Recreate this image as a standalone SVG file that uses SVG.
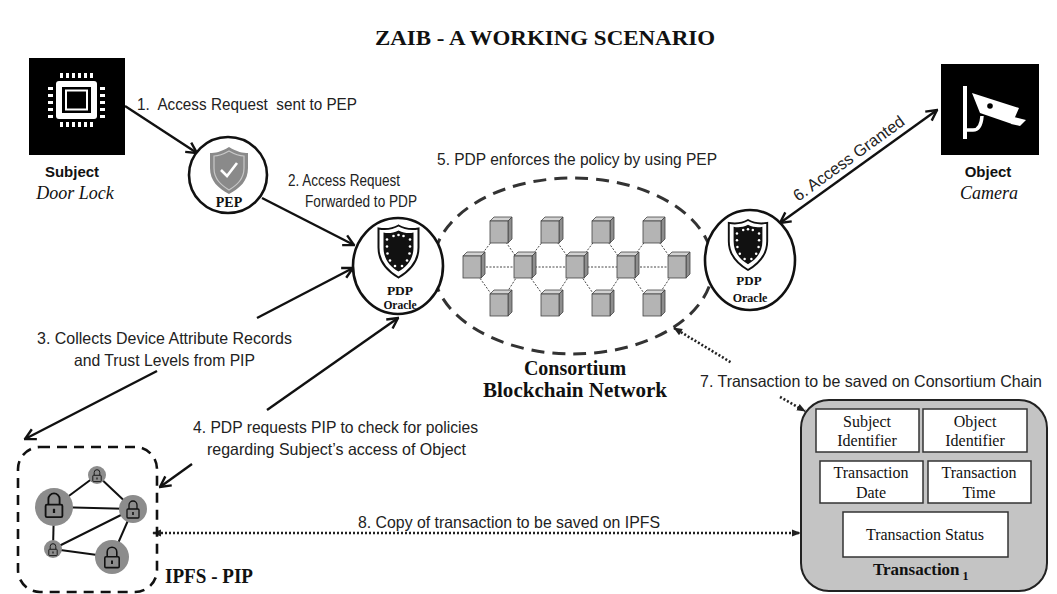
<svg xmlns="http://www.w3.org/2000/svg" width="1057" height="594" viewBox="0 0 1057 594">
  <style>
    .lbl { font-family: "Liberation Sans", Arial, sans-serif; font-size: 16.5px; fill: #222; }
    .ser { font-family: "Liberation Serif", "Times New Roman", serif; fill: #111; }
    .serb { font-family: "Liberation Serif", "Times New Roman", serif; font-weight: bold; fill: #111; }
    .sansb { font-family: "Liberation Sans", Arial, sans-serif; font-weight: bold; fill: #111; }
    .arrow { stroke: #111; stroke-width: 2.4; fill: none; marker-end: url(#openHead); }
    .arrow2 { stroke: #111; stroke-width: 2.4; fill: none; marker-start: url(#openHead); marker-end: url(#openHead); }
    .arrowS { stroke: #111; stroke-width: 2.4; fill: none; marker-start: url(#openHead); }
    .dot { stroke: #222; stroke-width: 2.6; stroke-dasharray: 2 2; fill: none; }
    .node-circle { fill: #fff; stroke: #111; stroke-width: 2.6; }
    .field { fill: #fff; stroke: #333; stroke-width: 1.5; }
    .link { stroke: #333; stroke-width: 0.9; stroke-dasharray: 2 1.5; }
    .ipfs-edge { stroke: #111; stroke-width: 2; }
    .ipfs-node { fill: #8c8c8c; }
  </style>
  <defs>
    <marker id="openHead" viewBox="0 0 14 14" refX="12.5" refY="7" markerWidth="14" markerHeight="14" markerUnits="userSpaceOnUse" orient="auto-start-reverse">
      <path d="M2,1.5 L12.5,7 L2,12.5" fill="none" stroke="#111" stroke-width="2.4"/>
    </marker>
    <marker id="dotHead" viewBox="0 0 10 10" refX="9" refY="5" markerWidth="9" markerHeight="9" markerUnits="userSpaceOnUse" orient="auto-start-reverse">
      <path d="M0,1 L10,5 L0,9 Z" fill="#222"/>
    </marker>
    <!-- 3D block used for the blockchain -->
    <g id="cube">
      <path d="M0,4 L4,0 L22,0 L18,4 Z" fill="#d2d2d2" stroke="#444" stroke-width="0.8"/>
      <path d="M18,4 L22,0 L22,22 L18,26 Z" fill="#8e8e8e" stroke="#444" stroke-width="0.8"/>
      <rect x="0" y="4" width="18" height="22" fill="#b4b4b4" stroke="#444" stroke-width="0.8"/>
    </g>
    <!-- black oracle shield with studs -->
    <g id="shieldDots">
      <path d="M0,-26 C7,-22 14,-22 20,-23 L20,-4 C20,10 12,19 0,26 C-12,19 -20,10 -20,-4 L-20,-23 C-14,-22 -7,-22 0,-26 Z" fill="#fff" stroke="#111" stroke-width="2"/>
      <path d="M0,-21 C6,-18 11,-18 15,-19 L15,-4 C15,7 9,15 0,20 C-9,15 -15,7 -15,-4 L-15,-19 C-11,-18 -6,-18 0,-21 Z" fill="#111"/>
      <g fill="#fff">
        <circle cx="-5" cy="-15.5" r="1.3"/><circle cx="0" cy="-16.5" r="1.3"/><circle cx="5" cy="-15.5" r="1.3"/>
        <circle cx="-11.5" cy="-12" r="1.3"/><circle cx="-11.5" cy="-5" r="1.3"/><circle cx="-11" cy="2" r="1.3"/><circle cx="-8.5" cy="9" r="1.3"/>
        <circle cx="11.5" cy="-12" r="1.3"/><circle cx="11.5" cy="-5" r="1.3"/><circle cx="11" cy="2" r="1.3"/><circle cx="8.5" cy="9" r="1.3"/>
        <circle cx="-3.5" cy="14.5" r="1.3"/><circle cx="3.5" cy="14.5" r="1.3"/>
      </g>
    </g>
    <!-- padlock glyph -->
    <g id="lock" fill="none" stroke="#111" stroke-width="1.3">
      <path d="M-4,-1 V-5 A4,4 0 0 1 4,-5 V-1"/>
      <rect x="-6" y="-1" width="12" height="9" rx="1" fill="#8c8c8c"/>
      <path d="M0,2 V5" stroke-width="1.6"/>
    </g>
  </defs>

  <!-- heading -->
  <text x="545" y="45" text-anchor="middle" class="serb" font-size="21" textLength="340" lengthAdjust="spacingAndGlyphs">ZAIB - A WORKING SCENARIO</text>

  <!-- consortium network (drawn first so the oracle circles sit over it) -->
  <g id="consortium">
    <ellipse cx="573" cy="266" rx="140" ry="88" fill="none" stroke="#333" stroke-width="3" stroke-dasharray="13 8"/>
    <g id="chain-links">
      <line class="link" x1="472" y1="267" x2="677" y2="267" stroke-width="1.4"/>
      <line class="link" x1="472" y1="267" x2="499" y2="232"/>
      <line class="link" x1="523" y1="267" x2="499" y2="232"/>
      <line class="link" x1="523" y1="267" x2="550" y2="232"/>
      <line class="link" x1="575" y1="267" x2="550" y2="232"/>
      <line class="link" x1="575" y1="267" x2="601" y2="232"/>
      <line class="link" x1="626" y1="267" x2="601" y2="232"/>
      <line class="link" x1="626" y1="267" x2="652" y2="232"/>
      <line class="link" x1="677" y1="267" x2="652" y2="232"/>
      <line class="link" x1="472" y1="267" x2="499" y2="305"/>
      <line class="link" x1="523" y1="267" x2="499" y2="305"/>
      <line class="link" x1="523" y1="267" x2="550" y2="305"/>
      <line class="link" x1="575" y1="267" x2="550" y2="305"/>
      <line class="link" x1="575" y1="267" x2="601" y2="305"/>
      <line class="link" x1="626" y1="267" x2="601" y2="305"/>
      <line class="link" x1="626" y1="267" x2="652" y2="305"/>
      <line class="link" x1="677" y1="267" x2="652" y2="305"/>
    </g>
    <g id="blocks">
      <use href="#cube" x="490" y="217"/>
      <use href="#cube" x="541" y="217"/>
      <use href="#cube" x="592" y="217"/>
      <use href="#cube" x="643" y="217"/>
      <use href="#cube" x="463" y="252"/>
      <use href="#cube" x="514" y="252"/>
      <use href="#cube" x="566" y="252"/>
      <use href="#cube" x="617" y="252"/>
      <use href="#cube" x="668" y="252"/>
      <use href="#cube" x="490" y="290"/>
      <use href="#cube" x="541" y="290"/>
      <use href="#cube" x="592" y="290"/>
      <use href="#cube" x="643" y="290"/>
    </g>
    <text x="575" y="375" text-anchor="middle" class="serb" font-size="20">Consortium</text>
    <text x="575" y="397" text-anchor="middle" class="serb" font-size="20" textLength="184" lengthAdjust="spacingAndGlyphs">Blockchain Network</text>
  </g>

  <!-- connectors -->
  <g id="connectors">
    <line class="arrow" x1="125" y1="106" x2="197" y2="153"/>
    <line class="arrow" x1="262" y1="198" x2="354" y2="245"/>
    <line class="arrowS" x1="25" y1="439" x2="157" y2="371"/>
    <line class="arrow" x1="257" y1="318" x2="353" y2="268"/>
    <line class="arrowS" x1="160" y1="487" x2="192" y2="464"/>
    <line class="arrow" x1="267" y1="410" x2="398" y2="318"/>
    <line class="arrow2" x1="780" y1="223" x2="937" y2="110"/>
    <line class="dot" x1="674" y1="328" x2="732" y2="363" marker-start="url(#dotHead)"/>
    <line class="dot" x1="780" y1="397" x2="805" y2="411" marker-end="url(#dotHead)"/>
    <line class="dot" x1="153" y1="533" x2="800" y2="533" marker-start="url(#dotHead)" marker-end="url(#dotHead)"/>

    <text class="lbl" x="137" y="110" textLength="220" lengthAdjust="spacingAndGlyphs">1.&#160; Access Request&#160; sent to PEP</text>
    <text class="lbl" x="288" y="186" textLength="112" lengthAdjust="spacingAndGlyphs">2. Access Request</text>
    <text class="lbl" x="305" y="207" textLength="112" lengthAdjust="spacingAndGlyphs">Forwarded to PDP</text>
    <text class="lbl" x="37" y="344" textLength="255" lengthAdjust="spacingAndGlyphs">3. Collects Device Attribute Records</text>
    <text class="lbl" x="74" y="366" textLength="181" lengthAdjust="spacingAndGlyphs">and Trust Levels from PIP</text>
    <text class="lbl" x="193" y="433" textLength="285" lengthAdjust="spacingAndGlyphs">4. PDP requests PIP to check for policies</text>
    <text class="lbl" x="207" y="455" textLength="259" lengthAdjust="spacingAndGlyphs">regarding Subject’s access of Object</text>
    <text class="lbl" x="437" y="165" textLength="280" lengthAdjust="spacingAndGlyphs">5. PDP enforces the policy by using PEP</text>
    <text class="lbl" transform="translate(852,163) rotate(-36)" text-anchor="middle" textLength="133" lengthAdjust="spacingAndGlyphs">6. Access Granted</text>
    <text class="lbl" x="700" y="387" textLength="342" lengthAdjust="spacingAndGlyphs">7. Transaction to be saved on Consortium Chain</text>
    <text class="lbl" x="358" y="528" textLength="302" lengthAdjust="spacingAndGlyphs">8. Copy of transaction to be saved on IPFS</text>
  </g>

  <!-- subject: door lock controller chip -->
  <g id="subject">
    <rect x="29" y="58" width="96" height="97" fill="#000"/>
    <g fill="#fff">
      <rect x="60" y="73" width="3" height="5"/><rect x="66" y="73" width="3" height="5"/><rect x="72" y="73" width="3" height="5"/>
      <rect x="78" y="73" width="3" height="5"/><rect x="84" y="73" width="3" height="5"/><rect x="90" y="73" width="3" height="5"/>
      <rect x="60" y="122" width="3" height="5"/><rect x="66" y="122" width="3" height="5"/><rect x="72" y="122" width="3" height="5"/>
      <rect x="78" y="122" width="3" height="5"/><rect x="84" y="122" width="3" height="5"/><rect x="90" y="122" width="3" height="5"/>
      <rect x="48" y="87" width="5" height="3"/><rect x="48" y="94" width="5" height="3"/><rect x="48" y="101" width="5" height="3"/>
      <rect x="48" y="108" width="5" height="3"/><rect x="48" y="115" width="5" height="3"/>
      <rect x="100" y="87" width="5" height="3"/><rect x="100" y="94" width="5" height="3"/><rect x="100" y="101" width="5" height="3"/>
      <rect x="100" y="108" width="5" height="3"/><rect x="100" y="115" width="5" height="3"/>
      <rect x="56" y="81" width="41" height="38" rx="3"/>
    </g>
    <rect x="62" y="87" width="29" height="26" fill="#000"/>
    <rect x="66" y="90.5" width="21" height="19" fill="#000" stroke="#fff" stroke-width="2"/>
    <text x="72" y="177" text-anchor="middle" class="sansb" font-size="15">Subject</text>
    <text x="75" y="199" text-anchor="middle" class="ser" font-size="18" font-style="italic">Door Lock</text>
  </g>

  <!-- object: camera -->
  <g id="object">
    <rect x="941" y="64" width="98" height="91" fill="#000"/>
    <rect x="963" y="86" width="4" height="53" fill="#fff"/>
    <path d="M965,130 H973 Q981,130 982,116" fill="none" stroke="#fff" stroke-width="3.5"/>
    <polygon points="972,93 1019,108 1012,124 980,113" fill="#fff"/>
    <polygon points="1014,117 1026,120 1020,126 1011,124" fill="#fff"/>
    <circle cx="990" cy="106" r="2.8" fill="#000"/>
    <text x="988" y="177" text-anchor="middle" class="sansb" font-size="15">Object</text>
    <text x="989" y="199" text-anchor="middle" class="ser" font-size="18" font-style="italic">Camera</text>
  </g>

  <!-- policy enforcement point -->
  <g id="pep">
    <ellipse cx="228" cy="175" rx="39" ry="38" class="node-circle"/>
    <path d="M229,147 C237,152 243,153 248,153 L248,168 C248,181 240,188 229,194 C218,188 210,181 210,168 L210,153 C215,153 221,152 229,147 Z" fill="#8a8a8a"/>
    <path d="M229,151 C236,155 241,156 244,156 L244,168 C244,179 237,185 229,190 C221,185 214,179 214,168 L214,156 C217,156 222,155 229,151 Z" fill="none" stroke="#c8c8c8" stroke-width="1.2"/>
    <path d="M221,170 L227,176 L237,163" fill="none" stroke="#fff" stroke-width="2.6"/>
    <text x="229" y="207" text-anchor="middle" class="serb" font-size="14">PEP</text>
  </g>

  <!-- PDP oracle near the subject -->
  <g id="pdp-left">
    <ellipse cx="398" cy="266" rx="45" ry="48" class="node-circle"/>
    <use href="#shieldDots" transform="translate(398.5,251.5)"/>
    <text x="400" y="295" text-anchor="middle" class="serb" font-size="13.5">PDP</text>
    <text x="400" y="309" text-anchor="middle" class="serb" font-size="11.5">Oracle</text>
  </g>

  <!-- PDP oracle near the object -->
  <g id="pdp-right">
    <ellipse cx="750" cy="260" rx="45" ry="50" class="node-circle"/>
    <use href="#shieldDots" transform="translate(748,245) scale(0.96)"/>
    <text x="749" y="285" text-anchor="middle" class="serb" font-size="13">PDP</text>
    <text x="750" y="302" text-anchor="middle" class="serb" font-size="12">Oracle</text>
  </g>

  <!-- IPFS policy information point -->
  <g id="ipfs-pip">
    <rect x="18" y="447" width="139" height="145" rx="22" fill="none" stroke="#111" stroke-width="2.6" stroke-dasharray="10 7"/>
    <line class="ipfs-edge" x1="54" y1="507" x2="97" y2="475"/>
    <line class="ipfs-edge" x1="97" y1="475" x2="133" y2="509"/>
    <line class="ipfs-edge" x1="54" y1="507" x2="133" y2="509"/>
    <line class="ipfs-edge" x1="133" y1="509" x2="53" y2="549"/>
    <line class="ipfs-edge" x1="133" y1="509" x2="112" y2="557"/>
    <line class="ipfs-edge" x1="54" y1="507" x2="53" y2="549"/>
    <line class="ipfs-edge" x1="53" y1="549" x2="112" y2="557"/>
    <circle class="ipfs-node" cx="54" cy="507" r="19"/>
    <circle class="ipfs-node" cx="97" cy="475" r="9"/>
    <circle class="ipfs-node" cx="133" cy="509" r="14"/>
    <circle class="ipfs-node" cx="53" cy="549" r="9"/>
    <circle class="ipfs-node" cx="112" cy="557" r="17"/>
    <use href="#lock" transform="translate(54,506) scale(1.4)"/>
    <use href="#lock" transform="translate(97,476) scale(0.7)"/>
    <use href="#lock" transform="translate(133,510) scale(1)"/>
    <use href="#lock" transform="translate(53,550) scale(0.7)"/>
    <use href="#lock" transform="translate(112,558) scale(1.2)"/>
    <text x="165" y="583" class="serb" font-size="20" textLength="88" lengthAdjust="spacingAndGlyphs">IPFS - PIP</text>
  </g>

  <!-- transaction record -->
  <g id="transaction">
    <rect x="801" y="400" width="246" height="191" rx="28" fill="#c4c4c4" stroke="#222" stroke-width="2"/>
    <rect class="field" x="816" y="409" width="103" height="43"/>
    <rect class="field" x="923" y="409" width="104" height="43"/>
    <rect class="field" x="820" y="461" width="103" height="42"/>
    <rect class="field" x="928" y="461" width="103" height="42"/>
    <rect class="field" x="843" y="512" width="165" height="45"/>
    <g class="ser" font-size="16" text-anchor="middle">
      <text x="867" y="427">Subject</text>
      <text x="867" y="446">Identifier</text>
      <text x="975" y="427">Object</text>
      <text x="975" y="446">Identifier</text>
      <text x="871" y="478">Transaction</text>
      <text x="871" y="498">Date</text>
      <text x="979" y="478">Transaction</text>
      <text x="979" y="498">Time</text>
      <text x="925" y="540">Transaction Status</text>
    </g>
    <text x="873" y="575" class="serb" font-size="17">Transaction<tspan font-size="12" dx="3" dy="5">1</tspan></text>
  </g>
</svg>
